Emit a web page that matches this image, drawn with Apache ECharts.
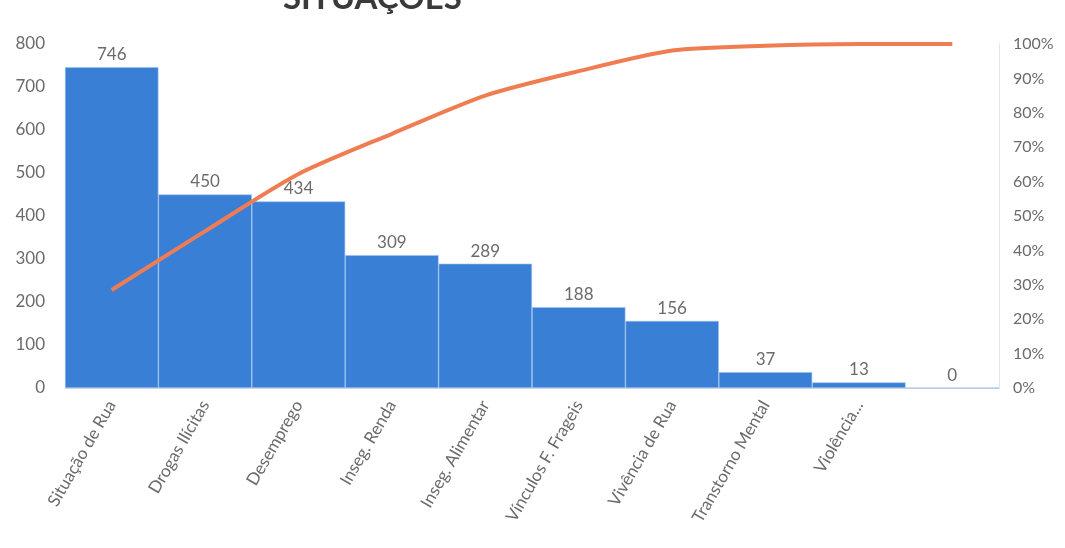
<!DOCTYPE html>
<html>
<head>
<meta charset="utf-8">
<script src="https://cdn.jsdelivr.net/npm/echarts@6/dist/echarts.min.js"></script>
<style>
  html, body { margin: 0; padding: 0; background: #ffffff; }
  #chart { width: 1065px; height: 548px; }
</style>
</head>
<body>
<div id="chart"></div>
<script>
// Pareto chart: occurrences per situation with the cumulative share
const categories = [
  'Situação de Rua', 'Drogas Ilícitas', 'Desemprego', 'Inseg. Renda',
  'Inseg. Alimentar', 'Vínculos F. Frageis', 'Vivência de Rua',
  'Transtorno Mental', 'Violência...', ''
];
const counts = [746, 450, 434, 309, 289, 188, 156, 37, 13, 0];
const cumulativePct = [28.5, 45.6, 62.2, 73.9, 85.0, 92.1, 98.1, 99.5, 100, 100];
const countTicks = { min: 0, max: 800, interval: 100 };
const pctTicks = { min: 0, max: 100, interval: 10 };

const FONT = 'Lato, "Open Sans", sans-serif';
const GREY = '#6b6b6b';

const chart = echarts.init(document.getElementById('chart'), null, { renderer: 'canvas' });
chart.setOption({
  backgroundColor: '#ffffff',
  animation: false,
  title: {
    text: 'SITUAÇÕES',
    left: 278,
    top: -23,
    textStyle: { fontFamily: FONT, fontSize: 33, fontWeight: 'bold', color: '#3a3a3a' }
  },
  grid: { left: 65, right: 66, top: 44, bottom: 160 },
  xAxis: {
    type: 'category',
    data: categories,
    axisLine: { show: true, lineStyle: { color: '#d9d9d9' } },
    axisTick: { show: false },
    axisLabel: {
      rotate: 60,
      interval: 0,
      margin: 14,
      color: GREY,
      fontFamily: FONT,
      fontSize: 17
    }
  },
  yAxis: [
    {
      type: 'value',
      min: countTicks.min, max: countTicks.max, interval: countTicks.interval,
      axisLine: { show: false },
      axisTick: { show: false },
      splitLine: { show: false },
      axisLabel: { color: GREY, fontFamily: FONT, fontSize: 17, margin: 20 }
    },
    {
      type: 'value',
      min: pctTicks.min, max: pctTicks.max, interval: pctTicks.interval,
      position: 'right',
      axisLine: { show: true, lineStyle: { color: '#e4e4e4' } },
      axisTick: { show: false },
      splitLine: { show: false },
      axisLabel: { color: GREY, fontFamily: FONT, fontSize: 16, margin: 14, formatter: '{value}%' }
    }
  ],
  series: [
    {
      type: 'bar',
      data: counts,
      yAxisIndex: 0,
      barCategoryGap: '0%',
      itemStyle: { color: '#3a7fd6', borderColor: '#9cc0ec', borderWidth: 0.6 },
      label: {
        show: true,
        position: 'top',
        distance: 4,
        color: GREY,
        fontFamily: FONT,
        fontSize: 17
      }
    },
    {
      type: 'line',
      data: cumulativePct,
      yAxisIndex: 1,
      smooth: 0.25,
      symbol: 'none',
      lineStyle: { color: '#f07c52', width: 4 },
      z: 5
    }
  ]
});
</script>
</body>
</html>
